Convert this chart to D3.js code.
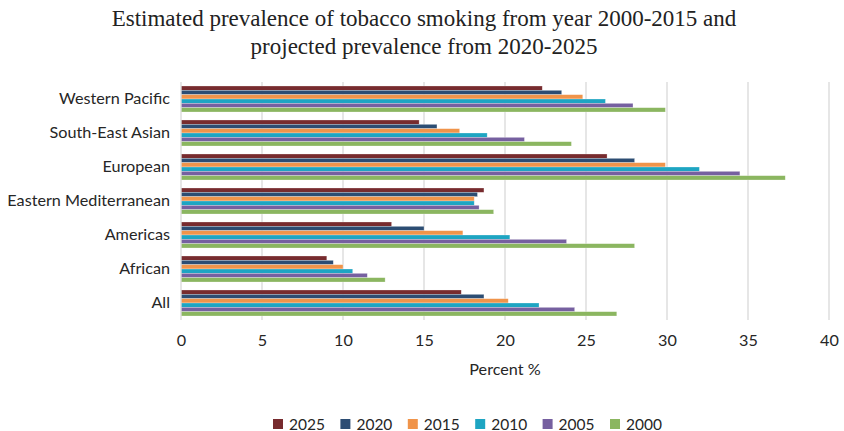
<!DOCTYPE html>
<html><head><meta charset="utf-8">
<script src="https://cdn.jsdelivr.net/npm/d3@7"></script>
<style>body{margin:0;background:#fff}svg{display:block}</style>
</head><body>
<svg id="chart" width="844" height="431"></svg>
<script>
const categories = ["Western Pacific","South-East Asian","European","Eastern Mediterranean","Americas","African","All"];
const seriesNames = ["2025","2020","2015","2010","2005","2000"];
const v2025 = [22.3,14.7,26.3,18.7,13.0,9.0,17.3];
const v2020 = [23.5,15.8,28.0,18.3,15.0,9.4,18.7];
const v2015 = [24.8,17.2,29.9,18.1,17.4,10.0,20.2];
const v2010 = [26.2,18.9,32.0,18.1,20.3,10.6,22.1];
const v2005 = [27.9,21.2,34.5,18.4,23.8,11.5,24.3];
const v2000 = [29.9,24.1,37.3,19.3,28.0,12.6,26.9];
const xTicks = [0,5,10,15,20,25,30,35,40];
const colors = ["#772B2E","#2C4D73","#F0944A","#1EA5C2","#7660A0","#8BB660"];
const values = [v2025,v2020,v2015,v2010,v2005,v2000];

const svg = d3.select("#chart");
const font = "Lato, 'Open Sans', sans-serif";
const fs = 16.2;
const pLeft = 181, pRight = 829, pTop = 82, pBottom = 320;

const x = d3.scaleLinear().domain([0,40]).range([pLeft,pRight]);
const y0 = d3.scaleBand().domain(categories).range([pTop,pBottom]).paddingInner(0.235).paddingOuter(0.1175);
const y1 = d3.scaleBand().domain(seriesNames).range([0,y0.bandwidth()]);

// title
const title = svg.append("text").attr("x",424).attr("text-anchor","middle")
  .attr("font-family","'Liberation Serif','Times New Roman',serif").attr("font-size",23).attr("fill","#222");
title.append("tspan").attr("x",424).attr("y",25.5).text("Estimated prevalence of tobacco smoking from year 2000-2015 and");
title.append("tspan").attr("x",424).attr("y",53.5).text("projected prevalence from 2020-2025");

// gridlines
svg.append("g").selectAll("line").data(xTicks.slice(1)).join("line")
  .attr("x1",d=>x(d)).attr("x2",d=>x(d)).attr("y1",pTop).attr("y2",pBottom)
  .attr("stroke","#d9d9d9").attr("stroke-width",1.3);

// bars
const groups = svg.append("g").selectAll("g").data(categories).join("g")
  .attr("transform",d=>`translate(0,${y0(d)})`);
groups.selectAll("rect").data((c,i)=>seriesNames.map((s,j)=>({s,j,v:values[j][i]}))).join("rect")
  .attr("x",x(0)).attr("y",d=>y1(d.s)).attr("width",d=>x(d.v)-x(0)).attr("height",y1.bandwidth())
  .attr("fill",d=>colors[d.j]).attr("stroke","#ffffff").attr("stroke-opacity",0.45).attr("stroke-width",0.6);

// left axis line
svg.append("line").attr("x1",pLeft).attr("x2",pLeft).attr("y1",pTop).attr("y2",pBottom)
  .attr("stroke","#d9d9d9").attr("stroke-width",1.3);

// y axis labels
const yAxis = d3.axisLeft(y0).tickSize(0).tickPadding(11);
const yg = svg.append("g").attr("transform",`translate(${pLeft},0)`).call(yAxis);
yg.select(".domain").remove();
yg.selectAll("text").attr("font-family",font).attr("font-size",fs).attr("fill","#262626");

// x axis labels
const xAxis = d3.axisBottom(x).tickValues(xTicks).tickSize(0).tickPadding(14);
const xg = svg.append("g").attr("transform",`translate(0,${pBottom})`).call(xAxis);
xg.select(".domain").remove();
xg.selectAll("text").attr("font-family",font).attr("font-size",fs).attr("fill","#262626");

svg.append("text").attr("x",505).attr("y",375).attr("text-anchor","middle")
  .attr("font-family",font).attr("font-size",fs).attr("fill","#262626").text("Percent %");

// legend
const leg = svg.append("g").selectAll("g").data(seriesNames).join("g")
  .attr("transform",(d,i)=>`translate(${273+i*67.4},419)`);
leg.append("rect").attr("width",10).attr("height",10).attr("fill",(d,i)=>colors[i]);
leg.append("text").attr("x",16).attr("y",10.5).attr("font-family",font).attr("font-size",15.5).attr("fill","#262626").text(d=>d);
</script>
</body></html>
